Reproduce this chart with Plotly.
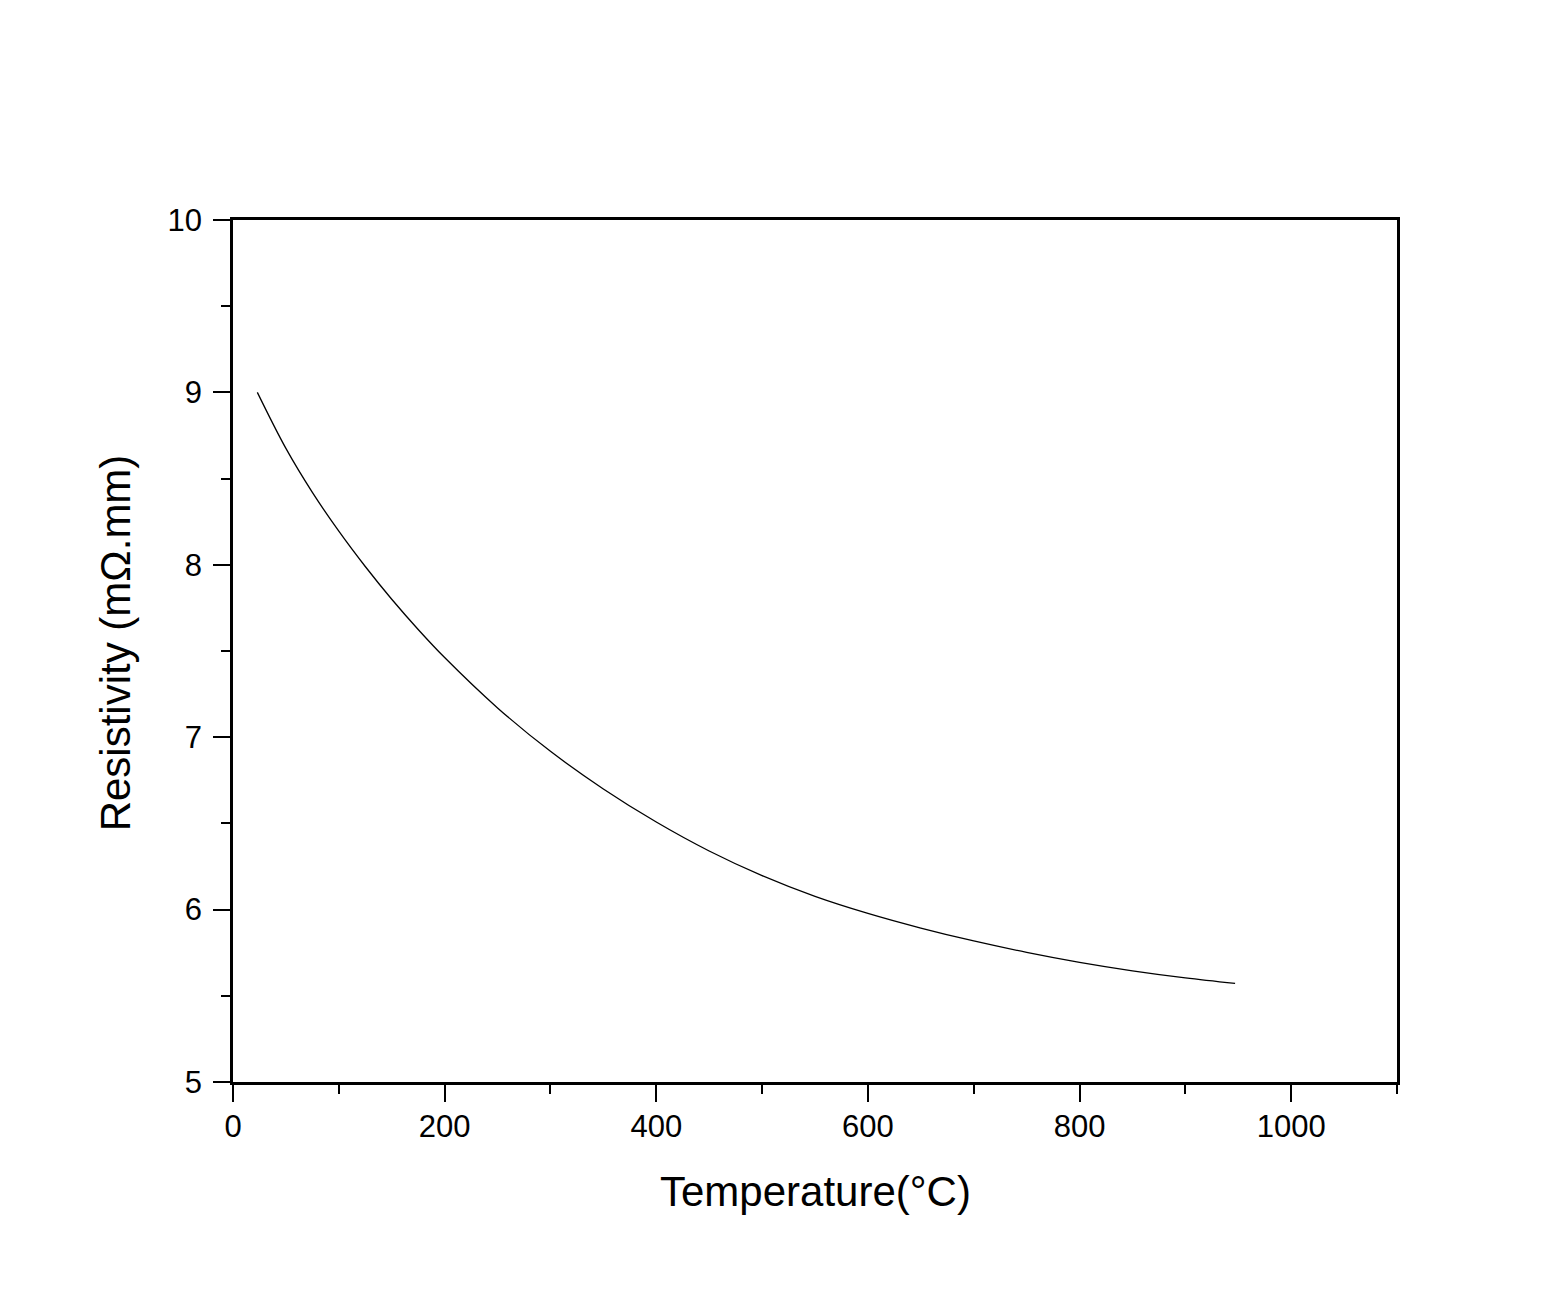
import plotly.graph_objects as go

temperature_c = [23, 50, 75, 100, 125, 150, 175, 200, 250, 300, 350, 400, 450,
                 500, 550, 600, 650, 700, 750, 800, 850, 900, 947]
resistivity = [9.000, 8.675, 8.420, 8.195, 7.990, 7.800, 7.625, 7.462, 7.170,
               6.918, 6.700, 6.508, 6.340, 6.197, 6.077, 5.978, 5.893, 5.818,
               5.752, 5.694, 5.645, 5.604, 5.572]

x_title = "Temperature(°C)"
y_title = "Resistivity (mΩ.mm)"

fig = go.Figure()
fig.add_trace(go.Scatter(x=temperature_c, y=resistivity, mode="lines",
                         line=dict(color="black", width=1.3, shape="spline",
                                   smoothing=1.0),
                         showlegend=False))

font_family = "Liberation Sans, Arial, sans-serif"
axis_common = dict(showline=True, linecolor="black", linewidth=2.5, mirror=True,
                   showgrid=False, zeroline=False, ticks="outside", ticklen=17,
                   tickwidth=2, tickcolor="black",
                   tickfont=dict(family=font_family, size=31, color="black"))

fig.update_layout(
    width=1562, height=1304,
    margin=dict(l=233, r=165, t=220, b=222),
    paper_bgcolor="white", plot_bgcolor="white",
    xaxis=dict(range=[0, 1100], dtick=200, tick0=0,
               minor=dict(dtick=100, ticks="outside", ticklen=9, tickwidth=2,
                          tickcolor="black"),
               ticklabelstandoff=-2, **axis_common),
    yaxis=dict(range=[5, 10], dtick=1, tick0=5,
               minor=dict(dtick=0.5, ticks="outside", ticklen=9, tickwidth=2,
                          tickcolor="black"),
               ticklabelstandoff=5, **axis_common),
    annotations=[
        dict(text=x_title, xref="paper", yref="paper", x=0.5, y=-0.1276,
             xanchor="center", yanchor="middle", showarrow=False,
             font=dict(family=font_family, size=42, color="black")),
        dict(text=y_title, xref="paper", yref="paper", x=-0.1014, y=0.51,
             xanchor="center", yanchor="middle", showarrow=False, textangle=-90,
             font=dict(family=font_family, size=42, color="black")),
    ],
)

fig.write_html("out.html")
